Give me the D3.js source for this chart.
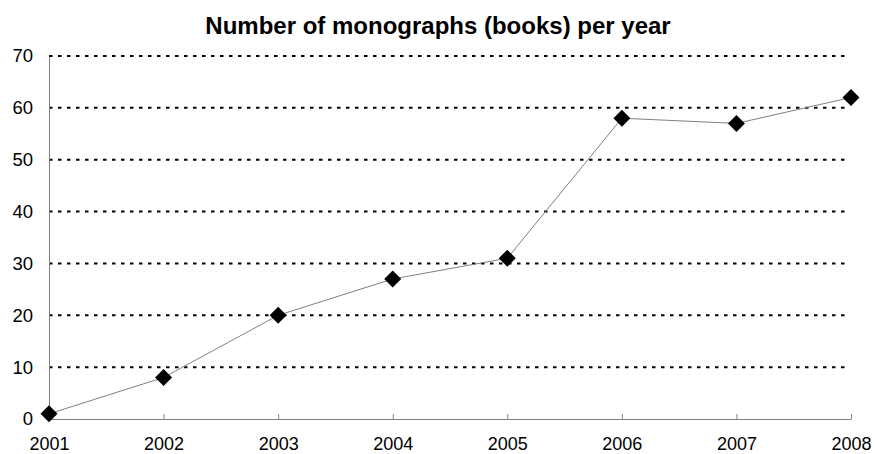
<!DOCTYPE html>
<html>
<head>
<meta charset="utf-8">
<script src="https://cdn.jsdelivr.net/npm/d3@7"></script>
<style>
  html, body { margin: 0; padding: 0; background: #fff; }
  svg { display: block; font-family: "Liberation Sans", Arial, sans-serif; }
</style>
</head>
<body>
<svg id="chart" width="875" height="454"></svg>
<script>
// Monographs published per year
const years = ["2001", "2002", "2003", "2004", "2005", "2006", "2007", "2008"];
const monographs = [1, 8, 20, 27, 31, 58, 57, 62];
const yTicks = [0, 10, 20, 30, 40, 50, 60, 70];
const title = "Number of monographs (books) per year";

const svg = d3.select("#chart");
const margin = { left: 49, right: 24, top: 56, bottom: 35 };
const W = 875, H = 454;

const x = d3.scalePoint().domain(years).range([margin.left, W - margin.right]);
const y = d3.scaleLinear().domain([0, 70]).range([H - margin.bottom, margin.top]);

// Dotted horizontal gridlines
svg.append("g")
  .selectAll("line")
  .data(yTicks.filter(d => d > 0))
  .join("line")
  .attr("x1", margin.left)
  .attr("x2", W - margin.right - 5)
  .attr("y1", d => y(d))
  .attr("y2", d => y(d))
  .attr("stroke", "#000")
  .attr("stroke-width", 2)
  .attr("stroke-dasharray", "3.5,5.5");

// Y axis
const yAxis = svg.append("g")
  .attr("transform", `translate(${margin.left},0)`)
  .call(d3.axisLeft(y).tickValues(yTicks).tickSize(0).tickPadding(16));
yAxis.select(".domain").attr("stroke", "#808080").attr("stroke-width", 1);
yAxis.selectAll("text")
  .attr("font-size", 18.5)
  .attr("fill", "#000")
  .attr("font-family", "Liberation Sans, Arial, sans-serif");

// X axis with small inward ticks
const xAxis = svg.append("g")
  .attr("transform", `translate(0,${y(0)})`)
  .call(d3.axisBottom(x).tickSizeInner(-5).tickSizeOuter(0));
xAxis.select(".domain").attr("stroke", "#808080").attr("stroke-width", 1);
xAxis.selectAll(".tick line").attr("stroke", "#808080");
xAxis.selectAll("text")
  .attr("font-size", 18)
  .attr("fill", "#000")
  .attr("y", 30.5)
  .attr("dy", 0)
  .attr("font-family", "Liberation Sans, Arial, sans-serif");

// Series line
const pts = years.map((yr, i) => ({ yr, v: monographs[i] }));
svg.append("path")
  .datum(pts)
  .attr("fill", "none")
  .attr("stroke", "#808080")
  .attr("stroke-width", 1)
  .attr("d", d3.line().x(d => x(d.yr)).y(d => y(d.v)));

// Diamond markers
const diamond = d3.symbol().type(d3.symbolSquare).size(2 * 8.5 * 8.5);
svg.append("g")
  .selectAll("path")
  .data(pts)
  .join("path")
  .attr("d", diamond)
  .attr("transform", d => `translate(${x(d.yr)},${y(d.v)}) rotate(45)`)
  .attr("fill", "#000");

// Title
svg.append("text")
  .attr("x", 438)
  .attr("y", 34)
  .attr("text-anchor", "middle")
  .attr("font-size", 24)
  .attr("font-weight", "bold")
  .attr("fill", "#000")
  .text(title);
</script>
</body>
</html>
